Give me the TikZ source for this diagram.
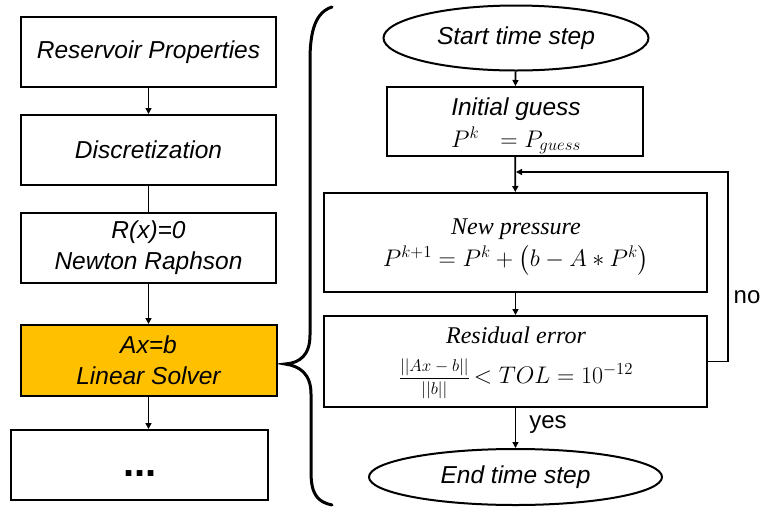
\RequirePackage{fix-cm}
\documentclass[tikz,border=0pt]{standalone}
\usepackage{amsmath}
\usepackage{fontspec}
\newfontfamily\arial{Liberation Sans}
\newfontfamily\cambria{Liberation Serif}
\usetikzlibrary{shapes.geometric,arrows.meta}
\definecolor{gold}{HTML}{FFC000}
\tikzset{
  pbox/.style={draw=black, line width=2pt, rectangle, inner sep=0pt, align=center},
  oval/.style={draw=black, line width=2pt, ellipse, inner sep=0pt, align=center},
  arr/.style={line width=1.7pt, -{Triangle[length=6pt,width=6pt]}},
  ln/.style={line width=1.7pt},
  af/.style={font=\arial\itshape\fontsize{24.5}{31}\selectfont},
  sf/.style={font=\fontsize{24}{30}\selectfont},
  cf/.style={font=\cambria\itshape\fontsize{24}{30}\selectfont},
  txt/.style={inner sep=0pt, anchor=base},
  lab/.style={font=\arial\fontsize{24}{28}\selectfont, inner sep=0pt},
  bracel/.style={line width=3pt, line cap=round},
}
\begin{document}
\begin{tikzpicture}[x=1pt,y=-1pt]
\useasboundingbox (0,0) rectangle (761,507);
% left column
\node[pbox, af, minimum width=255pt, minimum height=70pt] (b1) at (148.5,52) {Reservoir Properties};
\node[pbox, af, minimum width=255pt, minimum height=70pt] (b2) at (148.5,150) {Discretization};
\node[pbox, af, minimum width=255pt, minimum height=70pt] (b3) at (148.5,248) {R(x)=0\\Newton Raphson};
\node[pbox, af, fill=gold, minimum width=256pt, minimum height=71pt] (b4) at (148.5,360.5) {Ax=b\\Linear Solver};
\node[pbox, minimum width=257pt, minimum height=70pt] (b5) at (139.5,465) {};
\node[font=\arial\bfseries\fontsize{40}{40}\selectfont, inner sep=0pt] (dots) at (140,474) {...};
\draw[arr] (b1) -- (b2);
\draw[ln] (b2) -- (b3);
\draw[arr] (b3) -- (b4);
\draw[arr] (b4.south) -- (b4.south |- b5.north);
% brace
\draw[bracel] (332,7) .. controls (316,12) and (310,30) .. (310,60) -- (310,335)
  .. controls (310,355) and (300,363) .. (285,364)
  .. controls (300,366) and (311,374) .. (311,394) -- (311,472)
  .. controls (311,495) and (318,502) .. (332,505);
% right column
\node[oval, af, minimum width=265pt, minimum height=65pt] (start) at (516,38) {Start time step};
\node[pbox, minimum width=256pt, minimum height=69pt] (init) at (515,121.5) {};
\node[txt, af] (initt) at (516,115) {Initial guess};
\node[txt, sf] (initm) at (516,147) {$P^k\ \ = P_{guess}$};
\node[pbox, minimum width=383pt, minimum height=99pt] (newp) at (515.5,242.5) {};
\node[txt, cf] (newpt) at (516,234) {New pressure};
\node[txt, sf] (newpm) at (516,266) {$P^{k+1} = P^k + \left(b - A * P^k\right)$};
\node[pbox, minimum width=383pt, minimum height=91pt] (resid) at (515.5,361.5) {};
\node[txt, cf] (residt) at (516,343) {Residual error};
\node[txt, sf] (residm) at (516,383)
  {{\fontsize{17}{20}\selectfont$\dfrac{||Ax-b||}{||b||}$}\,$< TOL = 10^{-12}$};
\node[oval, af, minimum width=293pt, minimum height=56pt] (end) at (515.5,477) {End time step};
\coordinate (join) at (516,172);
\coordinate (lr) at (728,361.5);
\coordinate (lt) at (728,172);
\draw[arr] (start) -- (init);
\draw[arr] (init) -- (newp);
\draw[arr] (newp) -- (resid);
\draw[arr] (resid) -- (end);
\node[lab] (yes) at (548,425) {yes};
\draw[arr] (resid.east) -- (lr) -- (lt) -- (join);
\node[lab] (no) at (747,297) {no};
\end{tikzpicture}
\end{document}
